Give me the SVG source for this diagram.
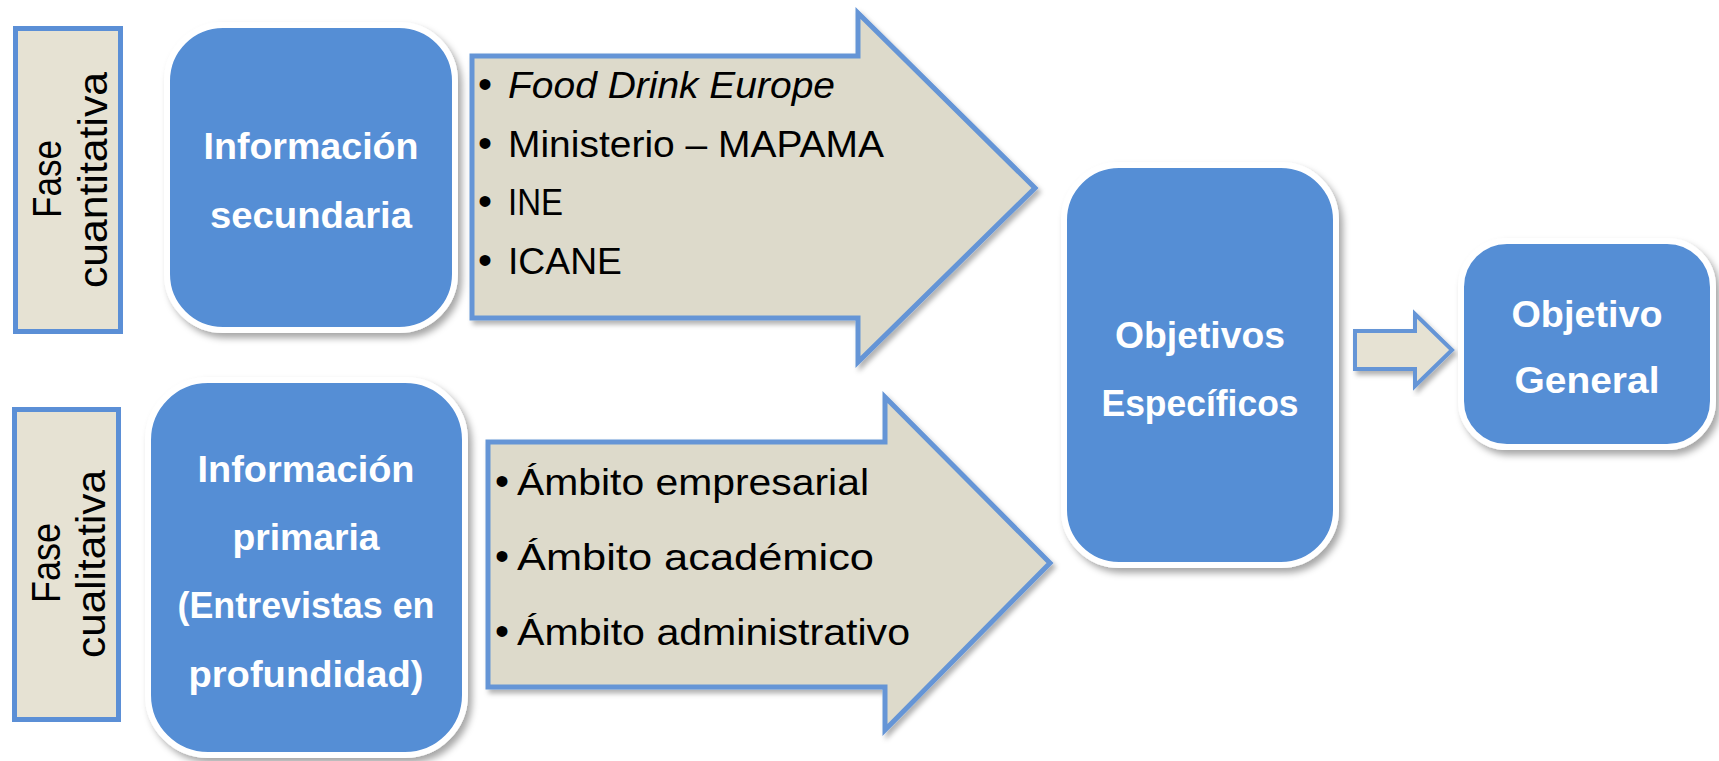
<svg xmlns="http://www.w3.org/2000/svg" width="1719" height="761" viewBox="0 0 1719 761">
  <defs>
    <filter id="sh" x="-10%" y="-10%" width="125%" height="125%">
      <feDropShadow dx="4" dy="5" stdDeviation="3.5" flood-color="#000" flood-opacity="0.35"/>
    </filter>
    <filter id="sh2" x="-10%" y="-10%" width="125%" height="125%">
      <feDropShadow dx="3" dy="4" stdDeviation="2.5" flood-color="#000" flood-opacity="0.3"/>
    </filter>
  </defs>
  <style>
    .phase { fill: #E6E2D3; stroke: #5B8FD6; stroke-width: 5; }
    .box { fill: #558ED5; stroke: #FFFFFF; stroke-width: 6; filter: url(#sh); }
    .arrow { fill: #DDDACB; stroke: #6595D6; stroke-width: 5; stroke-linejoin: miter; filter: url(#sh2); }
    .arrowS { fill: #E6E2D3; stroke: #6595D6; stroke-width: 4; filter: url(#sh2); }
    .phtxt { font-family: "Liberation Sans", Arial, sans-serif; font-size: 40px; fill: #000; }
    .btxt { font-family: "Liberation Sans", Arial, sans-serif; font-size: 37px; font-weight: bold; fill: #FFFFFF; text-anchor: middle; }
    .ltxt { font-family: "Liberation Sans", Arial, sans-serif; font-size: 37px; fill: #000; }
    .bul { font-family: "Liberation Sans", Arial, sans-serif; font-size: 40px; fill: #000; text-anchor: middle; }
  </style>

  <g id="connectors">
    <g id="arrow-top">
      <polygon class="arrow" points="472,56 858,56 858,13 1035,188 858,362 858,318 472,318"/>
      <text class="bul" x="485" y="98">•</text>
      <text class="ltxt" x="508" y="98" font-style="italic" textLength="327" lengthAdjust="spacingAndGlyphs">Food Drink Europe</text>
      <text class="bul" x="485" y="157">•</text>
      <text class="ltxt" x="508" y="157" textLength="376" lengthAdjust="spacingAndGlyphs">Ministerio – MAPAMA</text>
      <text class="bul" x="485" y="215">•</text>
      <text class="ltxt" x="508" y="215" textLength="55" lengthAdjust="spacingAndGlyphs">INE</text>
      <text class="bul" x="485" y="274">•</text>
      <text class="ltxt" x="508" y="274" textLength="114" lengthAdjust="spacingAndGlyphs">ICANE</text>
    </g>
    <g id="arrow-bottom">
      <polygon class="arrow" points="488,442 885,442 885,397 1050,563 885,730 885,687 488,687"/>
      <text class="bul" x="502" y="495">•</text>
      <text class="ltxt" x="517" y="495" textLength="352" lengthAdjust="spacingAndGlyphs">Ámbito empresarial</text>
      <text class="bul" x="502" y="570">•</text>
      <text class="ltxt" x="517" y="570" textLength="357" lengthAdjust="spacingAndGlyphs">Ámbito académico</text>
      <text class="bul" x="502" y="645">•</text>
      <text class="ltxt" x="517" y="645" textLength="393" lengthAdjust="spacingAndGlyphs">Ámbito administrativo</text>
    </g>
    <polygon id="arrow-small" class="arrowS" points="1355,331 1415,331 1415,314 1452,350 1415,386 1415,369 1355,369"/>
  </g>

  <g id="fase-cuantitativa">
    <rect class="phase" x="15.5" y="28.5" width="105" height="303"/>
    <text class="phtxt" transform="translate(61,179) rotate(-90)" text-anchor="middle" textLength="78" lengthAdjust="spacingAndGlyphs">Fase</text>
    <text class="phtxt" transform="translate(107,180) rotate(-90)" text-anchor="middle" textLength="216" lengthAdjust="spacingAndGlyphs">cuantitativa</text>
  </g>

  <g id="fase-cualitativa">
    <rect class="phase" x="14.5" y="409.5" width="104" height="310"/>
    <text class="phtxt" transform="translate(60,563) rotate(-90)" text-anchor="middle" textLength="80" lengthAdjust="spacingAndGlyphs">Fase</text>
    <text class="phtxt" transform="translate(105,564) rotate(-90)" text-anchor="middle" textLength="188" lengthAdjust="spacingAndGlyphs">cualitativa</text>
  </g>

  <g id="info-secundaria">
    <rect class="box" x="167" y="25" width="288" height="305" rx="56" ry="56"/>
    <text class="btxt" x="311" y="159" textLength="215" lengthAdjust="spacingAndGlyphs">Información</text>
    <text class="btxt" x="311" y="228" textLength="202" lengthAdjust="spacingAndGlyphs">secundaria</text>
  </g>

  <g id="info-primaria">
    <rect class="box" x="148" y="380" width="317" height="375" rx="60" ry="60"/>
    <text class="btxt" x="306" y="482" textLength="217" lengthAdjust="spacingAndGlyphs">Información</text>
    <text class="btxt" x="306" y="550" textLength="147" lengthAdjust="spacingAndGlyphs">primaria</text>
    <text class="btxt" x="306" y="618" textLength="257" lengthAdjust="spacingAndGlyphs">(Entrevistas en</text>
    <text class="btxt" x="306" y="687" textLength="235" lengthAdjust="spacingAndGlyphs">profundidad)</text>
  </g>

  <g id="objetivos-especificos">
    <rect class="box" x="1064" y="165" width="272" height="400" rx="55" ry="55"/>
    <text class="btxt" x="1200" y="348" textLength="170" lengthAdjust="spacingAndGlyphs">Objetivos</text>
    <text class="btxt" x="1200" y="416" textLength="197" lengthAdjust="spacingAndGlyphs">Específicos</text>
  </g>

  <g id="objetivo-general">
    <rect class="box" x="1461" y="241" width="252" height="206" rx="46" ry="46"/>
    <text class="btxt" x="1587" y="327" textLength="151" lengthAdjust="spacingAndGlyphs">Objetivo</text>
    <text class="btxt" x="1587" y="393" textLength="145" lengthAdjust="spacingAndGlyphs">General</text>
  </g>
</svg>
